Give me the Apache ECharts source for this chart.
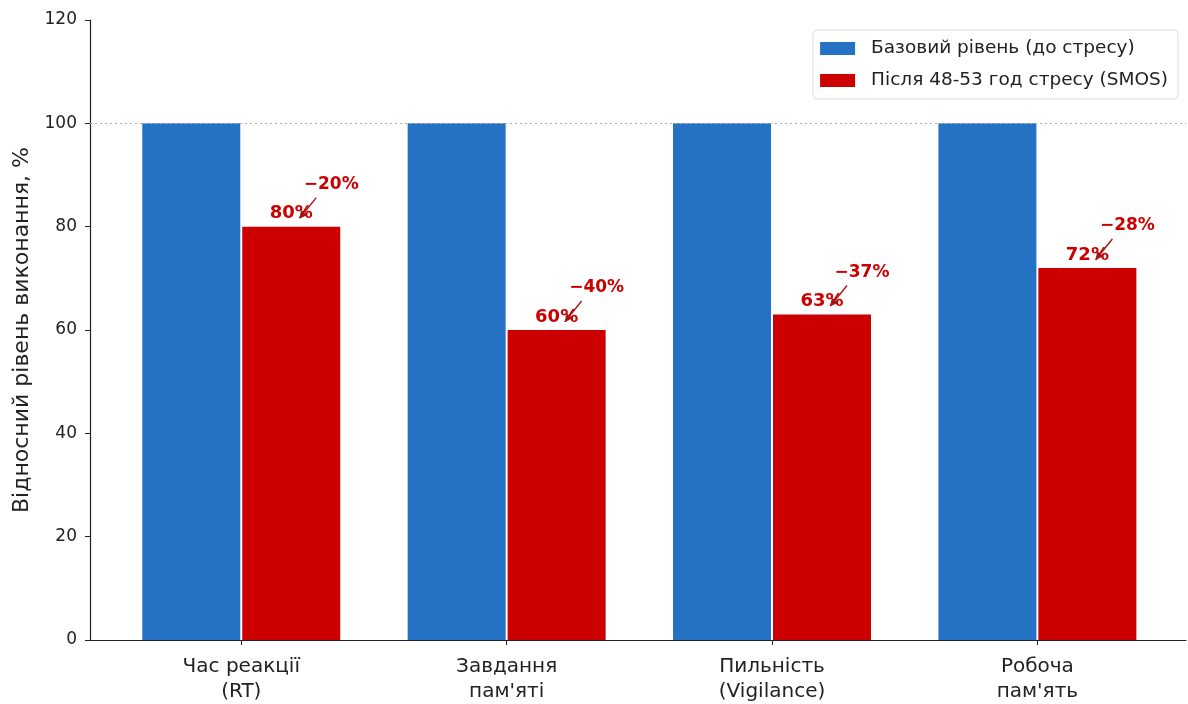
<!DOCTYPE html>
<html>
<head>
<meta charset="utf-8">
<script src="https://cdn.jsdelivr.net/npm/echarts@6/dist/echarts.min.js"></script>
<style>
  html, body { margin: 0; padding: 0; background: #fff; }
  #chart { width: 1188px; height: 704px; }
</style>
</head>
<body>
<div id="chart"></div>
<script>
// Task categories (x axis) and their performance values, %
const categories = ['Час реакції\n(RT)', 'Завдання\nпам\'яті', 'Пильність\n(Vigilance)', 'Робоча\nпам\'ять'];
const baseline = [100, 100, 100, 100];
const afterStress = [80, 60, 63, 72];
const change = [-20, -40, -37, -28];
const yTicks = [0, 20, 40, 60, 80, 100, 120];

const seriesNames = ['Базовий рівень (до стресу)', 'Після 48-53 год стресу (SMOS)'];
const BLUE = '#2571c4';
const RED = '#cc0000';
const ARROW = '#a31515';
const FONT = 'DejaVu Sans';
const BAR_W = 98;

const chart = echarts.init(document.getElementById('chart'));

const idx = categories.map((_, i) => i);

chart.setOption({
  animation: false,
  textStyle: { fontFamily: FONT },
  grid: { left: 90, right: 2, top: 20, bottom: 64, containLabel: false },
  legend: {
    orient: 'vertical',
    right: 10,
    top: 30,
    padding: [9, 10, 9, 7],
    itemGap: 13,
    itemWidth: 35,
    itemHeight: 13,
    borderColor: '#dddddd',
    borderWidth: 1,
    borderRadius: 4,
    backgroundColor: '#ffffff',
    textStyle: { fontSize: 18.5, color: '#222', fontFamily: FONT, padding: [0, 0, 0, 11] },
    data: [
      { name: seriesNames[0], icon: 'rect' },
      { name: seriesNames[1], icon: 'rect' }
    ]
  },
  xAxis: {
    type: 'value',
    min: -0.57,
    max: 3.56,
    splitLine: { show: false },
    axisLine: { show: true, onZero: false, lineStyle: { color: '#222', width: 1.2 } },
    axisTick: { show: true, customValues: idx, length: 5, lineStyle: { color: '#222' } },
    axisLabel: {
      customValues: idx,
      formatter: v => categories[Math.round(v)] || '',
      fontSize: 20,
      color: '#222',
      lineHeight: 25,
      margin: 14,
      fontFamily: FONT
    }
  },
  yAxis: {
    type: 'value',
    min: 0,
    max: 120,
    interval: 20,
    name: 'Відносний рівень виконання, %',
    nameLocation: 'middle',
    nameGap: 49,
    nameTextStyle: { fontSize: 22, color: '#222', fontFamily: FONT },
    splitLine: { show: false },
    axisLine: { show: true, onZero: false, lineStyle: { color: '#222', width: 1.2 } },
    axisTick: { show: true, length: 5, lineStyle: { color: '#222' } },
    axisLabel: {
      fontSize: 17, color: '#222', margin: 13, fontFamily: FONT,
      customValues: yTicks
    }
  },
  series: [
    {
      name: seriesNames[0],
      type: 'bar',
      barWidth: BAR_W,
      barGap: '2%',
      itemStyle: { color: BLUE },
      data: baseline.map((v, i) => [i, v]),
      markLine: {
        silent: true,
        symbol: 'none',
        label: { show: false },
        lineStyle: { color: '#aaaaaa', type: [2, 3], width: 1 },
        data: [{ yAxis: 100 }]
      }
    },
    {
      name: seriesNames[1],
      type: 'bar',
      barWidth: BAR_W,
      barGap: '2%',
      itemStyle: { color: RED },
      label: {
        show: true,
        position: 'top',
        distance: 4,
        formatter: p => p.value[1] + '%',
        color: RED,
        fontWeight: 'bold',
        fontSize: 18,
        fontFamily: FONT
      },
      data: afterStress.map((v, i) => [i, v])
    },
    {
      // change annotations with arrows pointing to each red bar label
      type: 'custom',
      silent: true,
      z: 10,
      encode: { x: 0, y: 1 },
      data: afterStress.map((v, i) => [i, v, change[i]]),
      renderItem: function (params, api) {
        const pt = api.coord([api.value(0), api.value(1)]);
        const cx = pt[0] + BAR_W / 2 + 1;
        const top = pt[1];
        const d = api.value(2);
        const txt = (d < 0 ? '\u2212' : '+') + Math.abs(d) + '%';
        const x1 = cx + 25, y1 = top - 29;   // tail
        const x2 = cx + 8, y2 = top - 8;     // tip
        const ang = Math.atan2(y2 - y1, x2 - x1);
        const hl = 8, hw = 4;
        const bx = x2 - hl * Math.cos(ang), by = y2 - hl * Math.sin(ang);
        const nx = -Math.sin(ang), ny = Math.cos(ang);
        return {
          type: 'group',
          children: [
            {
              type: 'line',
              shape: { x1: x1, y1: y1, x2: bx, y2: by },
              style: { stroke: ARROW, lineWidth: 1.4 }
            },
            {
              type: 'polygon',
              shape: { points: [[x2, y2], [bx + nx * hw, by + ny * hw], [bx - nx * hw, by - ny * hw]] },
              style: { fill: ARROW }
            },
            {
              type: 'text',
              x: cx + 40,
              y: top - 42,
              style: {
                text: txt,
                fill: RED,
                font: 'bold 17px "DejaVu Sans"',
                align: 'center',
                verticalAlign: 'middle'
              }
            }
          ]
        };
      }
    }
  ]
});
</script>
</body>
</html>
